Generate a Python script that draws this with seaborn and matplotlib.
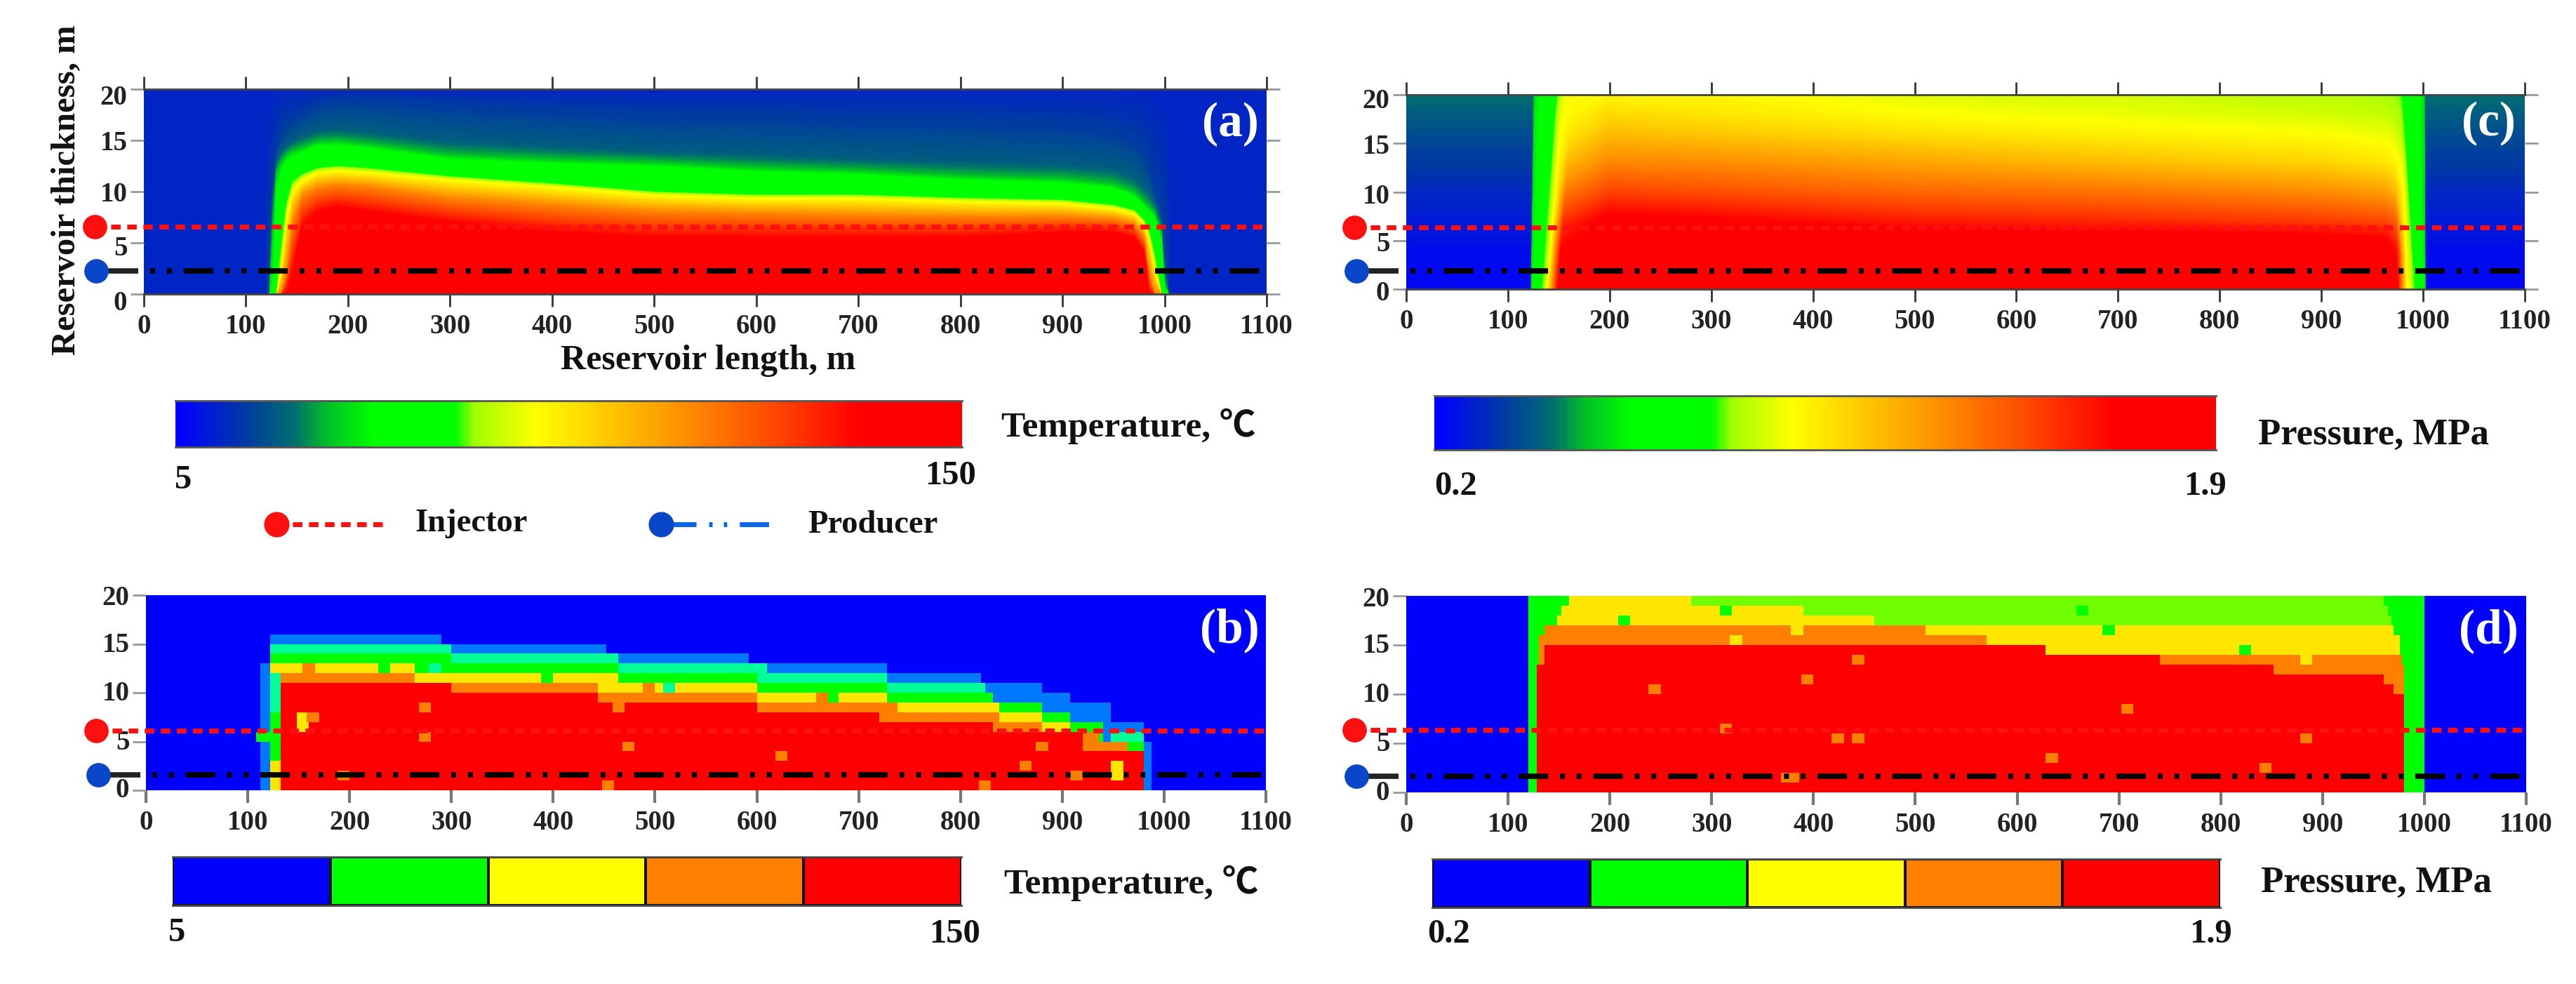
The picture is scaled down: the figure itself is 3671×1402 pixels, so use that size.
import numpy as np
import matplotlib
matplotlib.use("Agg")
import matplotlib.pyplot as plt
from matplotlib.colors import LinearSegmentedColormap, ListedColormap
from matplotlib.transforms import ScaledTranslation
import seaborn as sns

W, H = 3671, 1402
sns.set_theme(style="white")
plt.rcParams["font.family"] = ["Liberation Serif", "Noto Sans CJK SC", "DejaVu Sans"]
plt.rcParams["font.weight"] = "bold"

X_TICKS = [0, 100, 200, 300, 400, 500, 600, 700, 800, 900, 1000, 1100]
Y_TICKS = [0, 5, 10, 15, 20]
X_LABEL = "Reservoir length, m"
Y_LABEL = "Reservoir thickness, m"

# panel (a): isotherm heights (m) at stations along the reservoir
A_STATIONS = [120, 123, 126, 130, 135, 140, 146, 155, 170, 190, 220, 300, 400, 500, 600, 700, 800, 900, 950, 970, 980, 985, 990, 997, 1000, 1004]
A_LEVELS = [0.055, 0.09, 0.13, 0.19, 0.25, 0.355, 0.457, 0.667, 0.87, 1.0]
A_H_TOP = [20] * 26
A_H_09 = [0, 0, 10, 14, 15.5, 16.5, 17, 17.5, 18.5, 19, 19, 18.5, 18, 17.5, 17.5, 17, 17, 16.5, 16, 15, 14, 12, 10, 8, 4, 0]
A_H_13 = [0, 0, 9, 13, 14, 14.5, 15, 15.5, 16, 16.2, 15.9, 15, 14.5, 14, 13.7, 13.3, 13, 12.7, 12.3, 11.5, 10.5, 10, 9, 7, 3, 0]
A_H_19 = [0, 0, 6, 12, 13, 13.6, 14, 14.3, 14.9, 15, 14.7, 13.6, 13.2, 12.9, 12.4, 12.1, 11.6, 11.3, 10.8, 10, 9, 8.5, 8, 6, 1, 0]
A_H_25 = [0, 0, 0, 10, 12, 13, 13.4, 13.8, 14.4, 14.5, 14.2, 13.1, 12.7, 12.4, 11.9, 11.6, 11.1, 10.8, 10.3, 9.5, 8.5, 8, 7.5, 5, 0.5, 0]
A_H_35 = [0, 0, 0, 0, 5, 9, 11, 11.7, 12.3, 12.5, 12.3, 11.5, 10.8, 10, 9.7, 9.7, 9.4, 9.2, 8.7, 8.2, 7.2, 6, 4, 0, 0, 0]
A_H_46 = [0, 0, 0, 0, 2, 7.5, 10, 11, 11.8, 12, 11.8, 11.1, 10.4, 9.6, 9.3, 9.3, 9, 8.8, 8.3, 7.8, 6.8, 5.5, 2.5, 0, 0, 0]
A_H_67 = [0, 0, 0, 0, 0, 2, 7, 9.5, 10.3, 10.6, 10.4, 9.3, 8.6, 8, 7.8, 7.6, 7.5, 7.5, 7.3, 6.8, 5.5, 2, 0, 0, 0, 0]
A_H_87 = [0, 0, 0, 0, 0, 0, 2, 6.5, 8, 8.5, 8, 7, 6, 5.5, 5.5, 5.5, 5.5, 6, 6, 5.5, 4, 0, 0, 0, 0, 0]
A_H_BOT = [0] * 26

# panel (c): normalised pressure; stations at the base and at the top of the layer
C_X_BASE = [0, 122.5, 123, 132, 136, 139, 149, 200, 300, 500, 700, 900, 965, 975, 984, 990, 992, 1002, 1002.5, 1100]
C_X_TOP = [0, 125.5, 126, 147, 150, 155, 165, 200, 300, 500, 700, 900, 960, 970, 977, 979, 980, 1001, 1001.5, 1100]
C_Y = [0, 4, 7, 10, 13, 16, 18, 20]
C_Y0 = [.01, .01, .22, .34, .39, .457, .87, 1, 1, 1, 1, 1, 1, .87, .457, .39, .34, .22, .01, .01]
C_Y4 = [.02, .02, .22, .34, .39, .457, .87, 1, 1, 1, .98, .97, .95, .85, .457, .39, .34, .22, .02, .02]
C_Y7 = [.04, .04, .22, .34, .39, .457, .80, .90, .88, .83, .81, .78, .76, .72, .457, .39, .34, .22, .04, .04]
C_Y10 = [.06, .06, .22, .34, .39, .457, .68, .77, .75, .71, .69, .65, .62, .58, .457, .39, .34, .22, .06, .06]
C_Y13 = [.09, .09, .22, .34, .39, .457, .58, .66, .65, .61, .57, .53, .50, .48, .44, .39, .34, .22, .09, .09]
C_Y16 = [.11, .11, .22, .34, .39, .457, .50, .57, .55, .51, .48, .457, .44, .43, .40, .37, .34, .22, .11, .11]
C_Y18 = [.13, .13, .22, .34, .39, .45, .47, .52, .50, .46, .44, .42, .41, .40, .39, .36, .34, .22, .13, .13]
C_Y20 = [.15, .15, .22, .33, .38, .44, .46, .47, .47, .43, .42, .40, .39, .38, .37, .36, .34, .22, .15, .15]

# panels (b), (d): class tops as (x from, x to, top of class in m)
B_LBLUE = [(113, 122, 13), (122, 290, 16), (290, 451, 15), (451, 591, 14), (591, 729, 13), (729, 820, 12), (820, 880, 11), (880, 908, 10), (908, 949, 9), (949, 981, 7), (981, 989, 5)]
B_MINT = [(122, 300, 15), (300, 463, 14), (463, 610, 13), (610, 729, 12), (729, 825, 11), (949, 981, 6)]
B_GREEN = [(122, 300, 14), (300, 463, 13), (463, 600, 12), (600, 729, 11), (729, 832, 10), (832, 880, 9), (880, 908, 8), (908, 940, 7), (940, 981, 5)]
B_YELLOW = [(122, 263, 13), (263, 463, 12), (463, 600, 11), (600, 729, 10), (729, 838, 9), (838, 880, 8), (880, 908, 7), (908, 930, 6), (945, 965, 5)]
B_ORANGE = [(132, 263, 12), (263, 445, 11), (445, 600, 10), (600, 738, 9), (738, 838, 8), (838, 880, 7), (880, 908, 6), (908, 935, 6), (935, 965, 5)]
B_RED = [(132, 300, 11), (300, 443, 10), (443, 600, 9), (600, 720, 8), (720, 832, 7), (832, 920, 6), (920, 981, 4)]
B_EDGE = [(122, 132, 12, 2), (122, 132, 8, 3), (122, 132, 3, 5)]
B_SPOTS = [(275, 8.5, 6), (275, 5.5, 6), (465, 8.5, 6), (475, 4.5, 6), (625, 3.5, 6), (880, 4.5, 6), (865, 2.5, 6), (915, 1.5, 6), (195, 1.5, 6), (455, 0.5, 6), (825, 0.5, 6), (155, 7.5, 5), (165, 7.5, 6), (155, 6.5, 5), (955, 2.5, 5), (955, 1.5, 5), (235, 12.5, 3), (395, 11.5, 3), (675, 9.5, 3), (515, 10.5, 2), (160, 12.5, 6), (495, 10.5, 6), (665, 9.5, 6), (285, 12.5, 2), (115, 5.5, 3), (120, 5.5, 3)]

D_GREEN = [(120, 160, 20), (120, 152, 19), (120, 148, 18), (120, 143, 17), (120, 135, 16), (120, 130, 15), (959, 1000, 20), (968, 1000, 19), (972, 1000, 17), (975, 1000, 15), (978, 1000, 13), (980, 1000, 10)]
D_LIME = [(280, 959, 20), (390, 965, 19), (460, 968, 18)]
D_YELLOW = [(160, 280, 20), (152, 390, 19), (148, 460, 18), (143, 970, 17), (628, 975, 16)]
D_ORANGE = [(135, 510, 17), (130, 570, 16), (570, 628, 15), (130, 628, 15), (740, 978, 14), (966, 980, 13)]
D_RED = [(129, 628, 13), (135, 628, 15), (628, 740, 14), (740, 851, 13), (851, 960, 12), (960, 970, 11), (970, 980, 10)]
D_SPOTS = [(245, 10.5, 6), (395, 11.5, 6), (445, 13.5, 6), (708, 8.5, 6), (315, 6.5, 6), (424, 5.5, 6), (444, 5.5, 6), (884, 5.5, 6), (634, 3.5, 6), (845, 2.5, 6), (380, 1.5, 6), (375, 1.5, 6), (325, 15.5, 5), (385, 16.5, 5), (885, 13.5, 5), (665, 18.5, 3), (315, 18.5, 3), (215, 17.5, 3), (690, 16.5, 3), (825, 14.5, 3)]

# depth of the wells per panel (injector, producer)
WELLS = {"a": (6.55, 2.25), "b": (6.1, 1.6), "c": (6.35, 1.85), "d": (6.35, 1.65)}
BAR_COLORS = ["#0000ff", "#00ff00", "#ffff00", "#ff8000", "#ff0000"]
CLASS_COLORS = ["#0000ff", "#0078ff", "#00ff96", "#00ff00", "#70ff00", "#ffe600", "#ff8000", "#ff0000"]
SMOOTH = LinearSegmentedColormap.from_list("field", [
    (0, "#0000ff"), (.09, "#003ca0"), (.15, "#006e6e"), (.19, "#00be28"), (.25, "#00ff00"),
    (.355, "#00ff00"), (.38, "#a0ff00"), (.457, "#ffff00"), (.55, "#ffc800"), (.667, "#ff8200"),
    (.78, "#ff3c00"), (.87, "#ff0000"), (1, "#ff0000")])
CELL = 2
RED = "#ff1010"
RED_DASH = (0, (1.95, 1.35))
BLACK_DASH = (0, (0.92, 2.2, 0.92, 2.2, 5.5, 2.2))
BLUE_DASH = (0, (3.9, 2.6, 0.7, 2.3, 0.7, 2.6, 6, 10))


def px_axes(fig, x0, y0, x1, y1):
    return fig.add_axes([x0 / W, 1 - y1 / H, (x1 - x0) / W, (y1 - y0) / H])


def paint(grid, bands, code):
    for x0, x1, top in bands:
        grid[:int(round(top)), int(round(x0 / CELL)):int(round(x1 / CELL))] = code


def spots(grid, items):
    for x, y, code in items:
        grid[int(y), int(x / CELL) - 3:int(x / CELL) + 3] = code


def style(ax, xmax, ymax, x_step, upper, label_shift):
    ax.set_xlim(0, xmax)
    ax.set_ylim(0, ymax)
    ax.set_xticks([t / x_step for t in X_TICKS])
    ax.set_xticklabels(X_TICKS, fontsize=28, color="#222222", rotation=0)
    ax.set_yticks(Y_TICKS)
    ax.set_yticklabels(Y_TICKS, fontsize=28, color="#222222", rotation=0)
    ax.tick_params(axis="x", bottom=True, length=13, width=2 if upper else 3,
                   color="#333333" if upper else "#777777", pad=7, top=upper)
    ax.tick_params(axis="y", left=True, length=14, width=2, color="#999999", pad=3, right=upper)
    for name, sp in ax.spines.items():
        sp.set_visible(upper and name in ("top", "bottom"))
        sp.set_color("#444444")
        sp.set_linewidth(2)
    for lab, shift in zip(ax.get_yticklabels(), label_shift):
        offs = ScaledTranslation(0, -shift / 100, ax.figure.dpi_scale_trans)
        lab.set_transform(lab.get_transform() + offs)


def wells(ax, key, x0_px, x1_px, mark_px, label, text_xy):
    inj, prod = WELLS[key]
    tr = ax.get_yaxis_transform()
    f = lambda p: (p - x0_px) / (x1_px - x0_px)
    ax.plot([f(mark_px[0]), 1], [inj, inj], transform=tr, color=RED, lw=5, ls=RED_DASH, clip_on=False, zorder=5)
    ax.plot([f(mark_px[0])], [inj], transform=tr, marker="o", ms=24, color=RED, clip_on=False, zorder=6)
    ax.plot([f(mark_px[1]), f(mark_px[1] + 60)], [prod, prod], transform=tr, color="#222222", lw=5.5, clip_on=False, zorder=5, solid_capstyle="butt")
    ax.plot([f(mark_px[1] + 77), 1], [prod, prod], transform=tr, color="black", lw=5.5, ls=BLACK_DASH, clip_on=False, zorder=5)
    ax.plot([f(mark_px[1])], [prod], transform=tr, marker="o", ms=24, color="#0a46c8", clip_on=False, zorder=6)
    ax.text(*text_xy, label, transform=ax.transAxes, color="white", fontsize=50, ha="center", va="center")


def ramp(fig, box):
    ax = px_axes(fig, *box)
    ramp_values = np.linspace(0, 1, 600)[None, :]
    sns.heatmap(ramp_values, cmap=SMOOTH, vmin=0, vmax=1, cbar=False, xticklabels=False, yticklabels=False, ax=ax)
    for name in ("top", "bottom"):
        ax.spines[name].set_visible(True)
        ax.spines[name].set_color("#555555")
        ax.spines[name].set_linewidth(2)


def steps(fig, box):
    ax = px_axes(fig, *box)
    sns.heatmap(np.arange(5)[None, :], cmap=ListedColormap(BAR_COLORS), vmin=-.5, vmax=4.5, cbar=False,
                linewidths=1.5, linecolor="#111111", xticklabels=False, yticklabels=False, ax=ax)
    for name in ("top", "bottom"):
        ax.spines[name].set_visible(True)
        ax.spines[name].set_color("#444444")
        ax.spines[name].set_linewidth(2)


fig = plt.figure(figsize=(W / 100, H / 100), dpi=100, facecolor="white")

# (a)
axa = px_axes(fig, 205, 127, 1805, 419)
axa.set_facecolor(SMOOTH(0.055))
a_h = np.array([A_H_TOP, A_H_09, A_H_13, A_H_19, A_H_25, A_H_35, A_H_46, A_H_67, A_H_87, A_H_BOT], float)
a_x = np.tile(np.array(A_STATIONS, float), (len(A_LEVELS), 1))
a_z = np.tile(np.array(A_LEVELS)[:, None], (1, len(A_STATIONS)))
axa.contourf(a_x, a_h, a_z, levels=np.linspace(0, 1, 201), cmap=SMOOTH, vmin=0, vmax=1, antialiased=False)
style(axa, 1100, 20, 1, True, [9, 4, 0, 0, 8])
wells(axa, "a", 205, 1805, (135, 137), "(a)", (0.9675, 0.83))

# (c)
axc = px_axes(fig, 2004, 135, 3598, 412)
c_z = np.array([C_Y0, C_Y4, C_Y7, C_Y10, C_Y13, C_Y16, C_Y18, C_Y20])
c_y = np.tile(np.array(C_Y, float)[:, None], (1, len(C_X_BASE)))
base, top = np.array(C_X_BASE), np.array(C_X_TOP)
c_x = base[None, :] + (top - base)[None, :] * np.array(C_Y)[:, None] / 20
axc.contourf(c_x, c_y, c_z, levels=np.linspace(0, 1, 201), cmap=SMOOTH, vmin=0, vmax=1, antialiased=False)
style(axc, 1100, 20, 1, True, [2, 1, 2, 1, 5])
wells(axc, "c", 2004, 3598, (1930, 1933), "(c)", (0.9675, 0.85))

# (b)
m = np.zeros((20, int(1100 / CELL)), int)
for bands, code in [(B_LBLUE, 1), (B_MINT, 2), (B_GREEN, 3), (B_YELLOW, 5), (B_ORANGE, 6), (B_RED, 7)]:
    paint(m, bands, code)
for x0, x1, t, code in B_EDGE:
    paint(m, [(x0, x1, t)], code)
spots(m, B_SPOTS)
axb = px_axes(fig, 208, 848, 1804, 1126)
sns.heatmap(m, cmap=ListedColormap(CLASS_COLORS), vmin=-.5, vmax=7.5, cbar=False, ax=axb)
style(axb, 1100 / CELL, 20, CELL, False, [1, 2, 1, 2, 4])
wells(axb, "b", 208, 1804, (137, 140), "(b)", (0.9675, 0.82))

# (d)
m = np.zeros((20, int(1100 / CELL)), int)
for bands, code in [(D_GREEN, 3), (D_LIME, 4), (D_YELLOW, 5), (D_ORANGE, 6), (D_RED, 7)]:
    paint(m, bands, code)
paint(m, [(120, 129, 20)], 3)
spots(m, D_SPOTS)
axd = px_axes(fig, 2004, 849, 3600, 1129)
sns.heatmap(m, cmap=ListedColormap(CLASS_COLORS), vmin=-.5, vmax=7.5, cbar=False, ax=axd)
style(axd, 1100 / CELL, 20, CELL, False, [2, 2, 2, 2, 5])
wells(axd, "d", 2004, 3600, (1930, 1933), "(d)", (0.9665, 0.82))

# colour bars
ramp(fig, (250, 571, 1371, 637))
ramp(fig, (2044, 564, 3158, 641))
steps(fig, (246, 1221, 1370, 1290))
steps(fig, (2041, 1224, 3164, 1293))


def label(x, y, s, size=37, **kw):
    fig.text(x / W, 1 - y / H, s, ha="center", va="center", fontsize=size, color="#111111", **kw)


label(1009, 514, X_LABEL, size=36)
label(94, 271, Y_LABEL, size=35, rotation=90)
label(1608, 607, "Temperature, ℃")
label(1612, 1258, "Temperature, ℃")
label(3382, 620, "Pressure, MPa", size=38)
label(3386, 1258, "Pressure, MPa", size=38)
for x, y, s in [(261, 684, "5"), (1355, 678, "150"), (252, 1329, "5"), (1361, 1331, "150"),
                (2074, 693, "0.2"), (3143, 693, "1.9"), (2064, 1331, "0.2"), (3151, 1331, "1.9")]:
    label(x, y, s, size=35)
label(672, 746, "Injector", size=33.5)
label(1244, 748, "Producer", size=33.5)

# legend
leg = fig.add_axes([0, 0, 1, 1], facecolor="none")
leg.set_axis_off()
leg.set_xlim(0, W)
leg.set_ylim(H, 0)
leg.plot([394, 552], [747, 747], color=RED, lw=5, ls=RED_DASH)
leg.plot([394], [747], marker="o", ms=25, color=RED)
leg.plot([965, 1099], [747, 747], color="#0a64e6", lw=5, ls=BLUE_DASH)
leg.plot([942, 970], [747, 747], color="#0a64e6", lw=5)
leg.plot([942], [747], marker="o", ms=25, color="#0a46c8")

fig.savefig("out.png", dpi=100, facecolor="white")
